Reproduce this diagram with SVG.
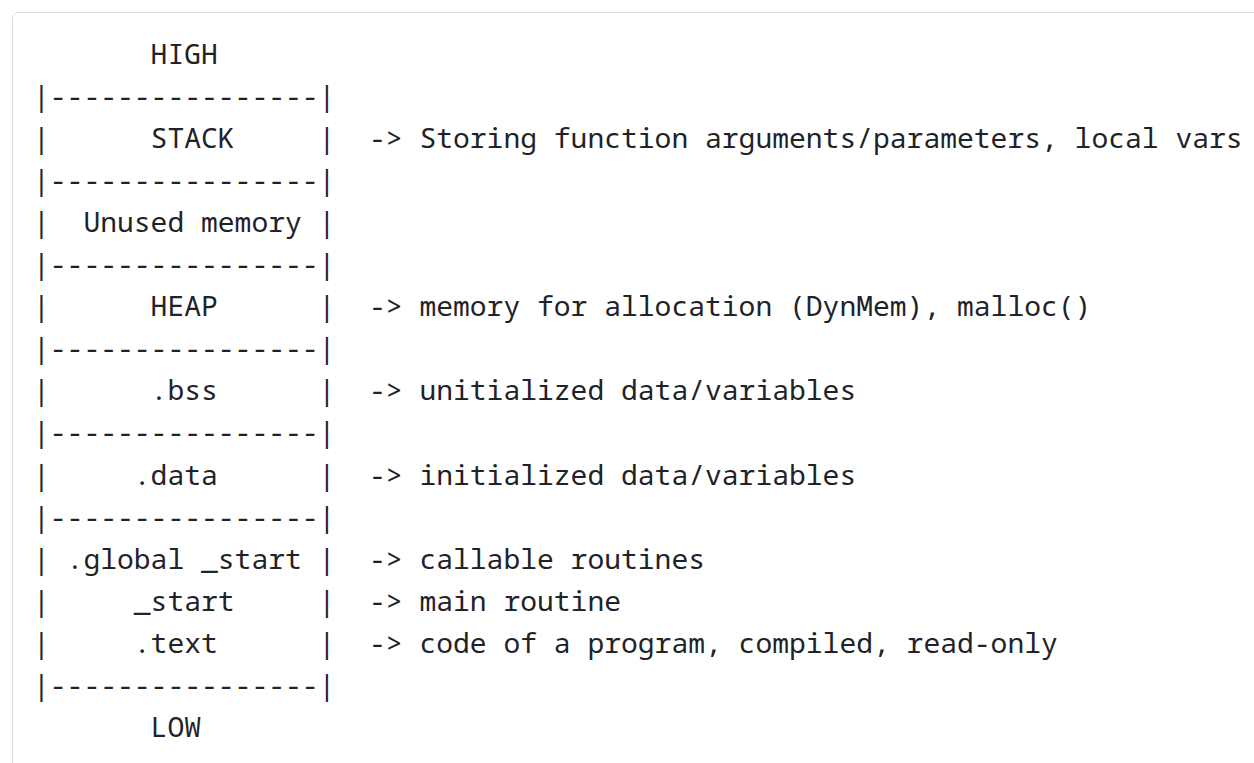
<svg xmlns="http://www.w3.org/2000/svg" width="1254" height="763" viewBox="0 0 1254 763" xml:space="preserve">
<style>
text{font-family:"Noto Sans Mono","DejaVu Sans Mono","Liberation Mono",monospace;font-size:28px;fill:#1f2328;white-space:pre}
</style>
<rect x="0" y="0" width="1254" height="763" fill="#ffffff"/>
<rect x="12.5" y="12.5" width="1260" height="780" rx="6" ry="6" fill="#ffffff" stroke="#d8dde2" stroke-width="1"/>
<g id="memory-layout">
<text xml:space="preserve" x="33" y="63.5">       HIGH</text>
<text xml:space="preserve" x="33" y="105.6">|----------------|</text>
<text xml:space="preserve" x="33" y="147.7">|      STACK     |  -&gt; Storing function arguments/parameters, local vars</text>
<text xml:space="preserve" x="33" y="189.8">|----------------|</text>
<text xml:space="preserve" x="33" y="231.9">|  Unused memory |</text>
<text xml:space="preserve" x="33" y="274">|----------------|</text>
<text xml:space="preserve" x="33" y="316.1">|      HEAP      |  -&gt; memory for allocation (DynMem), malloc()</text>
<text xml:space="preserve" x="33" y="358.2">|----------------|</text>
<text xml:space="preserve" x="33" y="400.3">|      .bss      |  -&gt; unitialized data/variables</text>
<text xml:space="preserve" x="33" y="442.4">|----------------|</text>
<text xml:space="preserve" x="33" y="484.5">|     .data      |  -&gt; initialized data/variables</text>
<text xml:space="preserve" x="33" y="526.6">|----------------|</text>
<text xml:space="preserve" x="33" y="568.7">| .global _start |  -&gt; callable routines</text>
<text xml:space="preserve" x="33" y="610.8">|     _start     |  -&gt; main routine</text>
<text xml:space="preserve" x="33" y="652.9">|     .text      |  -&gt; code of a program, compiled, read-only</text>
<text xml:space="preserve" x="33" y="695">|----------------|</text>
<text xml:space="preserve" x="33" y="737.1">       LOW</text>
</g>
<g id="connectors"></g>
</svg>
